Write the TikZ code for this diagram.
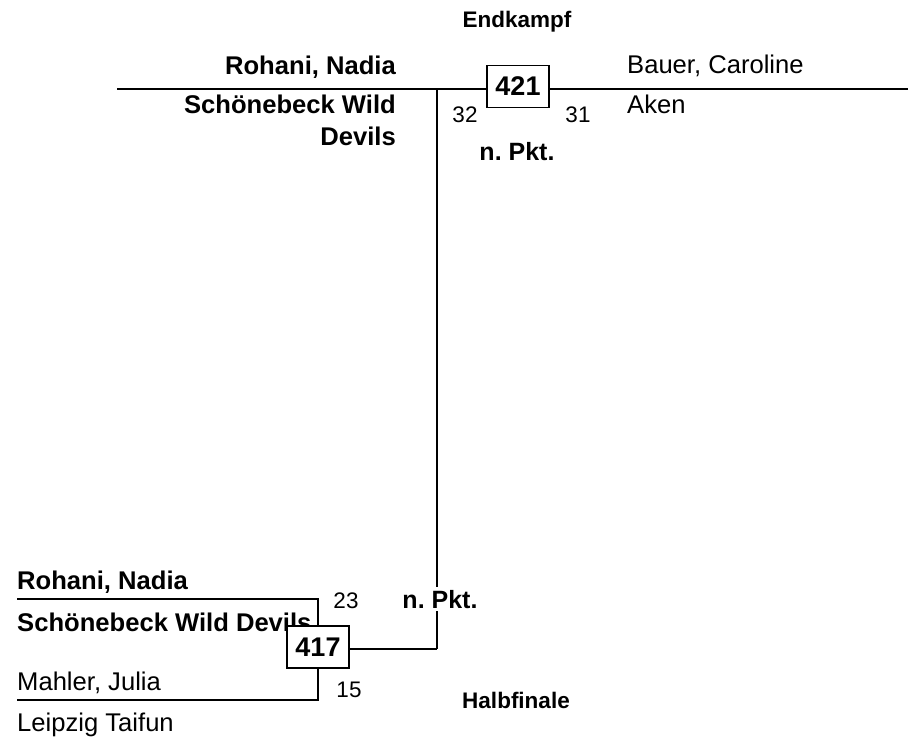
\documentclass[tikz,border=0pt]{standalone}
\usepackage{fontspec}
\setmainfont{Liberation Sans}
\frenchspacing
\begin{document}
\begin{tikzpicture}[x=1pt,y=-1pt,
  thickline/.style={line width=2.6pt},
  thinline/.style={line width=1.6pt},
  plaintxt/.style={inner sep=0pt,font=\fontsize{25.6}{32}\selectfont},
  boldtxt/.style={inner sep=0pt,font=\fontsize{25.6}{32}\selectfont\bfseries},
  scoretxt/.style={inner sep=0pt,anchor=base,font=\fontsize{22.5}{26}\selectfont},
  roundtxt/.style={inner sep=0pt,anchor=base,font=\fontsize{22.5}{26}\selectfont\bfseries},
  pkttxt/.style={inner sep=0pt,anchor=base,font=\fontsize{25}{26}\selectfont\bfseries},
  matchbox/.style={draw,line width=1.2pt,fill=white,minimum width=62pt,minimum height=42pt,inner sep=0pt,font=\fontsize{27}{30}\selectfont\bfseries}]
\useasboundingbox (0,0) rectangle (908,738);
% top match
\coordinate (tl) at (117,89);
\coordinate (tr) at (908,89);
\coordinate (vtop) at (437,89);
\coordinate (vbot) at (437,649);
\draw[thickline] (tl) -- (tr);
\draw[thinline] (vtop) -- (vbot);
\node[matchbox] (m421) at (518,86.5) {421};
\node[roundtxt] (endk) at (517,28) {Endkampf};
\node[boldtxt,anchor=base east] (t1) at (396,75) {Rohani, Nadia};
\node[boldtxt,anchor=base east,align=right] (t2) at (396,146) {Schönebeck Wild\\Devils};
\node[plaintxt,anchor=base west] (t3) at (627,74) {Bauer, Caroline};
\node[plaintxt,anchor=base west] (t4) at (627,114) {Aken};
\node[scoretxt] (s32) at (465,123) {32};
\node[scoretxt] (s31) at (578,123) {31};
\node[pkttxt] (np1) at (517,161) {n. Pkt.};
% bottom match
\coordinate (b1l) at (17,599);
\coordinate (b1r) at (318,599);
\coordinate (b2l) at (17,700);
\coordinate (b2r) at (318,700);
\node[boldtxt,anchor=base west] (u1) at (17,589) {Rohani, Nadia};
\node[boldtxt,anchor=base west] (u2) at (17,631) {Schönebeck Wild Devils};
\node[plaintxt,anchor=base west] (u3) at (17,690) {Mahler, Julia};
\node[plaintxt,anchor=base west] (u4) at (17,731) {Leipzig Taifun};
\draw[thickline] (b1l) -- (b1r) -- (b2r) -- (b2l);
\node[matchbox] (m417) at (318,647) {417};
\draw[thickline] (m417.east |- vbot) -- (vbot);
\node[scoretxt] (s23) at (346,608) {23};
\node[scoretxt] (s15) at (349,697) {15};
\node[pkttxt,fill=white,inner ysep=3pt,inner xsep=1pt] (np2) at (440,608) {n. Pkt.};
\node[roundtxt] (halb) at (516,708) {Halbfinale};
\end{tikzpicture}
\end{document}
